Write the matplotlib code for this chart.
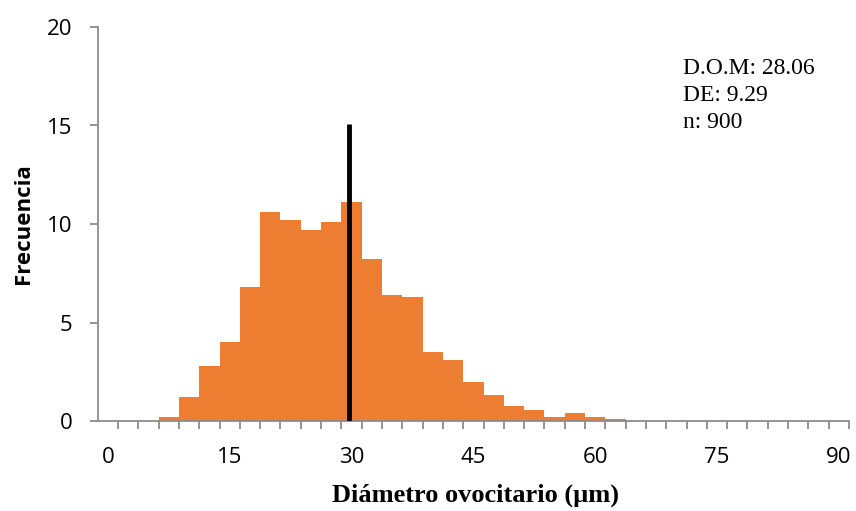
import matplotlib
matplotlib.use("Agg")
import matplotlib.pyplot as plt
import numpy as np

# Bin centres (µm) and frequencies
bin_centers = [i * 2.5 for i in range(37)]
freq = [0, 0, 0, 0.2, 1.2, 2.8, 4.0, 6.8, 10.6, 10.2, 9.7, 10.1, 11.1,
        8.2, 6.4, 6.3, 3.5, 3.1, 2.0, 1.3, 0.75, 0.55, 0.2, 0.4, 0.2, 0.1,
        0, 0, 0, 0, 0, 0, 0, 0, 0, 0, 0]
major_labels = [0, 15, 30, 45, 60, 75, 90]
y_ticks = [0, 5, 10, 15, 20]
mean_line_x = 29.7
mean_line_top = 15.1
stats_text = ["D.O.M: 28.06", "DE: 9.29", "n: 900"]

fig = plt.figure(figsize=(8.56, 5.11), dpi=100)
ax = fig.add_axes([97.7 / 856, 1 - 421 / 511, (849 - 97.7) / 856, (421 - 27) / 511])

ax.bar(bin_centers, freq, width=2.5, color="#ED7D31", edgecolor="none", zorder=2)
ax.plot([mean_line_x, mean_line_x], [0, mean_line_top], color="black", lw=3.5,
        solid_capstyle="butt", zorder=3)

ax.set_xlim(-1.25, 91.25)
ax.set_ylim(0, 20)

axis_gray = "#8C8C8C"
for s in ["top", "right"]:
    ax.spines[s].set_visible(False)
for s in ["left", "bottom"]:
    ax.spines[s].set_color(axis_gray)
    ax.spines[s].set_linewidth(1.3)

# x: tick marks at category boundaries, labels at category centres
boundaries = [c + 1.25 for c in bin_centers]
ax.set_xticks(boundaries)
ax.set_xticklabels([])
ax.tick_params(axis="x", which="major", direction="out", length=6, width=1.3,
               color=axis_gray)
ax.set_xticks(major_labels, minor=True)
ax.set_xticklabels([str(v) for v in major_labels], minor=True,
                   fontsize=16, family="Open Sans")
ax.tick_params(axis="x", which="minor", length=0, pad=19)

ax.set_yticks(y_ticks)
ax.set_yticklabels([str(v) for v in y_ticks], fontsize=16, family="Open Sans")
ax.tick_params(axis="y", direction="out", length=6, width=1.3, color=axis_gray, pad=12)

ax.set_ylabel("Frecuencia", fontsize=16, fontweight="bold", family="Open Sans",
              va="center")
ax.yaxis.set_label_coords((23.5 - 97.7) / 751.3, 0.5)
ax.set_xlabel("Diámetro ovocitario (µm)", fontsize=19, fontweight="bold",
              family="Liberation Serif", va="center")
ax.xaxis.set_label_coords(0.503, (421 - 495) / 394)

for i, t in enumerate(stats_text):
    fig.text(683 / 856, 1 - (68 + i * 27) / 511, t, fontsize=17,
             family="Liberation Serif", va="center", ha="left")

fig.savefig("out.png", dpi=100)
